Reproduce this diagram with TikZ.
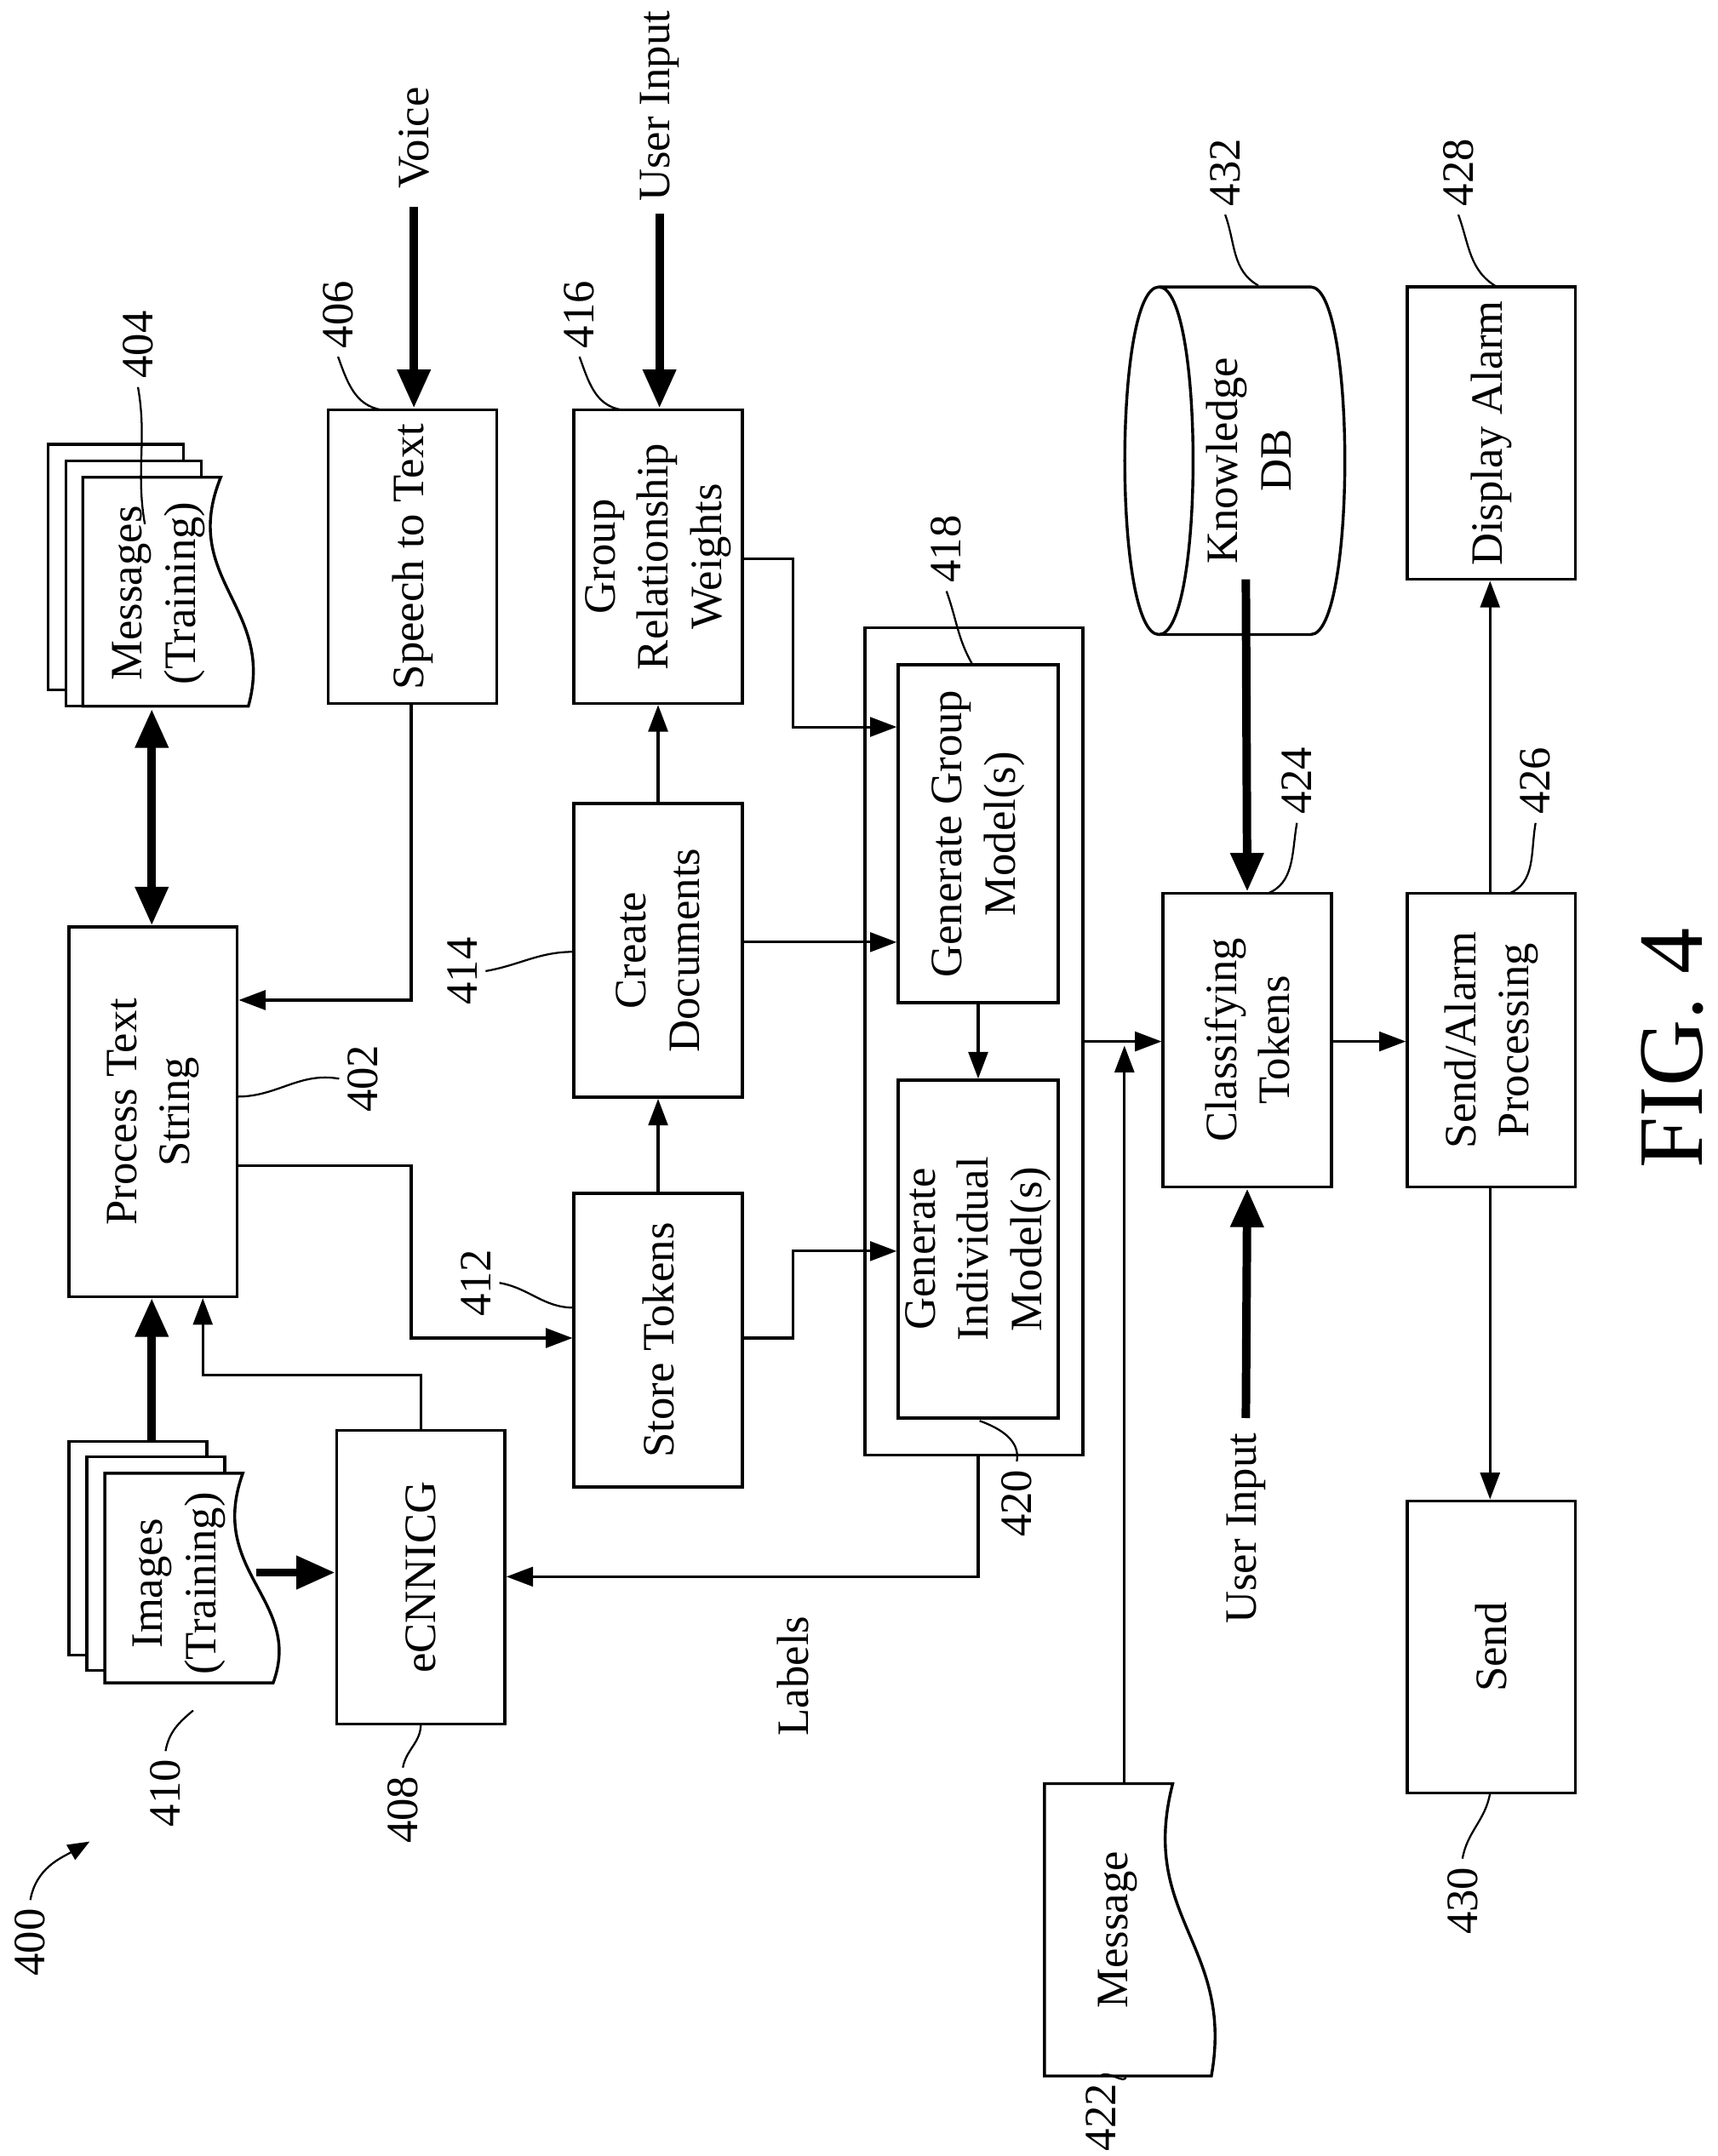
\documentclass[tikz,border=0pt]{standalone}
\usepackage{fontspec}
\setmainfont{Liberation Serif}
\usetikzlibrary{arrows.meta}
\begin{document}
\begin{tikzpicture}[x=0.02cm,y=-0.02cm,
  bx/.style={draw,line width=1.2pt,inner sep=0pt},
  t/.style={rotate=90,align=center,font=\fontsize{18.5}{22}\selectfont},
  ln/.style={line width=1.1pt},
  ar/.style={line width=1.1pt,-{Triangle[length=11pt,width=8pt]}},
  thk/.style={line width=3.5pt,-{Triangle[length=16pt,width=13pt]}},
  ld/.style={line width=0.8pt},
  doc/.style={draw,line width=1.2pt,fill=white}]
\useasboundingbox (0,0) rectangle (1245,1563);
% boxes
\node[bx,minimum width=2.44cm,minimum height=5.36cm] (pts) at (111,806) {};
\node[t] at (pts) {Process Text\\String};
\node[bx,minimum width=2.44cm,minimum height=4.26cm] (stt) at (299,403.5) {};
\node[t] at (stt) {Speech to Text};
\node[bx,minimum width=2.44cm,minimum height=4.26cm] (grw) at (477,403.5) {};
\node[t] at (grw) {Group\\Relationship\\Weights};
\node[bx,minimum width=2.44cm,minimum height=4.26cm] (cd) at (477,689) {};
\node[t] at (cd) {Create\\Documents};
\node[bx,minimum width=2.44cm,minimum height=4.26cm] (st) at (477,971.5) {};
\node[t] at (st) {Store Tokens};
\node[bx,minimum width=3.16cm,minimum height=12cm] (outer) at (706,755) {};
\node[bx,minimum width=2.32cm,minimum height=4.9cm] (ggm) at (709,604.5) {};
\node[t] at (ggm) {Generate Group\\Model(s)};
\node[bx,minimum width=2.32cm,minimum height=4.9cm] (gim) at (709,905.5) {};
\node[t] at (gim) {Generate\\Individual\\Model(s)};
\node[bx,minimum width=2.44cm,minimum height=4.26cm] (ecn) at (305,1143.5) {};
\node[t] at (ecn) {eCNNICG};
\node[bx,minimum width=2.44cm,minimum height=4.26cm] (ct) at (904,754) {};
\node[t] at (ct) {Classifying\\Tokens};
\node[bx,minimum width=2.44cm,minimum height=4.26cm] (sap) at (1081,754) {};
\node[t] at (sap) {Send/Alarm\\Processing};
\node[bx,minimum width=2.44cm,minimum height=4.24cm] (da) at (1081,314) {};
\node[t] at (da) {Display Alarm};
\node[bx,minimum width=2.44cm,minimum height=4.24cm] (snd) at (1081,1194) {};
\node[t] at (snd) {Send};
% knowledge DB cylinder
\draw[line width=1.2pt] (840,208) -- (950,208) .. controls (983,208) and (983,460) .. (950,460) -- (840,460);
\draw[line width=1.2pt] (840,208) .. controls (807,208) and (807,460) .. (840,460) .. controls (873,460) and (873,208) .. (840,208);
\node[minimum width=2.7cm,minimum height=5cm] (kdb) at (898,334) {};
\node[t] at (905,334) {Knowledge\\DB};
% documents
\foreach \dx/\dy in {0/0,13/12}{
 \draw[line width=1.2pt,fill=white] (35+\dx,322+\dy) rectangle (133+\dx,500+\dy);}
\draw[doc] (60,346) -- (160,346) .. controls (130,420) and (200,440) .. (180,512) -- (60,512) -- cycle;
\node[t] (msgs) at (115,430) {Messages\\(Training)};
\foreach \dx/\dy in {0/0,13/11}{
 \draw[line width=1.2pt,fill=white] (50+\dx,1045+\dy) rectangle (150+\dx,1200+\dy);}
\draw[doc] (76,1068) -- (176,1068) .. controls (150,1140) and (220,1160) .. (198,1220) -- (76,1220) -- cycle;
\node[t] (imgs) at (130,1148) {Images\\(Training)};
\draw[doc] (757,1293) -- (850,1293) .. controls (825,1390) and (895,1410) .. (878,1505) -- (757,1505) -- cycle;
\node[t] (msg) at (810,1399) {Message};
\coordinate (msgtop) at (815,1293);
% free texts
\node[t] (voice) at (300,100) {Voice};
\node[t] (ui1) at (478,77) {User Input};
\node[t] (ui2) at (903,1108) {User Input};
\node[t] (lab) at (575,1215) {Labels};
\node[rotate=90,font=\fontsize{38}{40}\selectfont] (fig) at (1212,760) {FIG. 4};
% thick arrows
\draw[line width=3.5pt,{Triangle[length=16pt,width=13pt]}-{Triangle[length=16pt,width=13pt]}] (110,514) -- (pts.north-|110,0);
\draw[thk] (110,1045) -- (pts.south-|110,0);
\draw[thk] (186,1140) -- (ecn.west|-0,1140);
\draw[thk] (300,150) -- (stt.north-|300,0);
\draw[thk] (478,155) -- (grw.north-|478,0);
\draw[thk] (903,420) -- (ct.north);
\draw[thk] (903,1028) -- (ct.south);
% thin connectors
\draw[ar] (ecn.north-|305,0) -- (305,997) -- (147,997) -- (pts.south-|147,0);
\draw[ar] (stt.south-|298,0) -- (298,725) -- (pts.east|-0,725);
\draw[ar] (pts.east|-0,845) -- (298,845) -- (298,970) -- (st.west|-0,970);
\draw[ar] (st.north) -- (cd.south);
\draw[ar] (cd.north) -- (grw.south);
\draw[ar] (grw.east|-0,405) -- (575,405) -- (575,527) -- (ggm.west|-0,527);
\draw[ar] (cd.east|-0,683) -- (ggm.west|-0,683);
\draw[ar] (st.east|-0,970) -- (575,970) -- (575,907) -- (gim.west|-0,907);
\draw[ar] (ggm.south) -- (gim.north);
\draw[ar] (outer.south-|709,0) -- (709,1143) -- (ecn.east|-0,1143);
\draw[ar] (outer.east|-0,755) -- (ct.west|-0,755);
\draw[ar] (msgtop) -- (815,758);
\draw[ar] (ct.east|-0,755) -- (sap.west|-0,755);
\draw[ar] (sap.north-|1080,0) -- (da.south-|1080,0);
\draw[ar] (sap.south-|1080,0) -- (snd.north-|1080,0);
% reference numbers
\begin{scope}[every node/.style={t}]
\node (n404) at (100,250) {404}; \draw[ld] (n404.west) to[out=-80,in=100] (105,380);
\node (n406) at (245,228) {406}; \draw[ld] (n406.west) to[out=-70,in=170] (276,297);
\node (n416) at (420,228) {416}; \draw[ld] (n416.west) to[out=-70,in=170] (450,297);
\node (n432) at (888,125) {432}; \draw[ld] (n432.west) to[out=-70,in=150] (912,207);
\node (n428) at (1057,125) {428}; \draw[ld] (n428.west) to[out=-70,in=150] (1085,208);
\node (n418) at (686,398) {418}; \draw[ld] (n418.west) to[out=-70,in=120] (705,482);
\node (n424) at (940,566) {424}; \draw[ld] (n424.west) to[out=-100,in=20] (918,648);
\node (n426) at (1113,566) {426}; \draw[ld] (n426.west) to[out=-100,in=20] (1093,648);
\node (n414) at (335,704) {414}; \draw[ld] (n414.south) to[out=10,in=180] (416,690);
\node (n402) at (263,782) {402}; \draw[ld] (n402.north) to[out=170,in=0] (172,795);
\node (n412) at (345,930) {412}; \draw[ld] (n412.south) to[out=-10,in=180] (416,948);
\node (n420) at (737,1090) {420}; \draw[ld] (n420.east) to[out=80,in=-20] (710,1030);
\node (n408) at (292,1312) {408}; \draw[ld] (n408.east) to[out=80,in=-90] (305,1250);
\node (n410) at (120,1300) {410}; \draw[ld] (n410.east) to[out=80,in=-140] (140,1240);
\node (n422) at (798,1535) {422}; \draw[ld] (n422.east) to[out=30,in=-90] (816,1505);
\node (n430) at (1060,1378) {430}; \draw[ld] (n430.east) to[out=80,in=-100] (1080,1300);
\node (n400) at (22,1408) {400};
\end{scope}
\draw[ld,-{Triangle[length=9pt,width=7pt]}] (n400.east) to[out=80,in=-150] (65,1335);
\end{tikzpicture}
\end{document}
